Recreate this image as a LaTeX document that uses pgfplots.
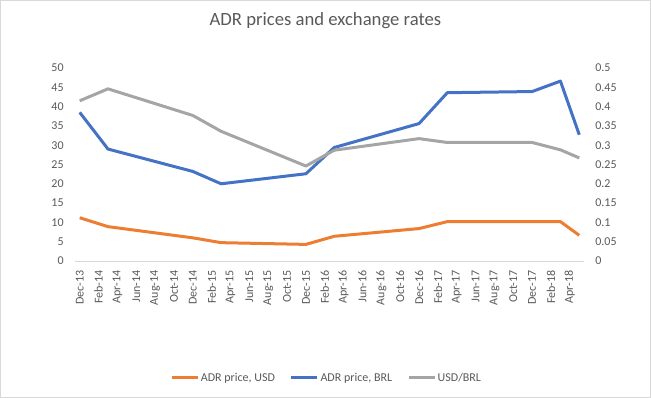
\documentclass[border=0pt]{standalone}
\usepackage{pgfplots}
\pgfplotsset{compat=1.18}
\usepackage{pgfplotstable}
\usepackage{fontspec}
\setmainfont{Carlito}
\definecolor{txt}{HTML}{595959}
\definecolor{cOr}{HTML}{ED7D31}
\definecolor{cBl}{HTML}{4472C4}
\definecolor{cGr}{HTML}{A5A5A5}
\definecolor{axc}{HTML}{D9D9D9}
\pgfplotstableread{
x usd brl fx
0.5 11.2 38.5 0.415
3.5 8.9 29.0 0.446
12.5 6.0 23.2 0.377
15.5 4.75 20.0 0.336
24.5 4.3 22.6 0.246
27.5 6.4 29.4 0.287
36.5 8.4 35.6 0.317
39.5 10.2 43.6 0.307
48.5 10.2 43.9 0.307
51.5 10.2 46.6 0.288
53.5 6.65 32.7 0.267
}\data
\begin{document}
\begin{tikzpicture}
\useasboundingbox (0,0) rectangle (488.25pt,298.5pt);
\draw[axc] (0.4pt,0.4pt) rectangle (487.85pt,298.1pt);
\pgfplotsset{
  every axis/.append style={
    scale only axis, width=381.75pt, height=144.75pt,
    at={(56.25pt,102.75pt)}, anchor=south west,
    xmin=0, xmax=54,
    tick label style={font=\fontsize{9}{11}\selectfont, text=txt},
    /pgf/number format/assume math mode=true,
    axis line style={draw=axc},
    y axis line style={draw=none},
    ytick style={draw=none},
  }
}
\begin{axis}[
  ymin=0, ymax=50, ytick={0,5,...,50},
  axis x line*=bottom, axis y line*=left,
  yticklabel style={anchor=east, xshift=-5pt},
  xtick={0.5,2.5,...,52.5},
  xticklabels={Dec-13,Feb-14,Apr-14,Jun-14,Aug-14,Oct-14,Dec-14,Feb-15,Apr-15,Jun-15,Aug-15,Oct-15,Dec-15,Feb-16,Apr-16,Jun-16,Aug-16,Oct-16,Dec-16,Feb-17,Apr-17,Jun-17,Aug-17,Oct-17,Dec-17,Feb-18,Apr-18},
  xticklabel style={rotate=90, anchor=east, xshift=-3.5pt},
  xtick style={draw=none},
  extra x ticks={0,2,...,54},
  extra x tick labels={},
  extra x tick style={tick style={draw=axc, line width=0.6pt}, major tick length=3.4pt, tick align=outside},
  title={ADR prices and exchange rates},
  title style={font=\fontsize{14}{16}\selectfont, text=txt, at={(0.492,1.244)}, anchor=center, yshift=-6pt},
  legend style={at={(0.494,-0.606)}, anchor=center, legend columns=3, draw=none, fill=none,
    font=\fontsize{9}{11}\selectfont, text=txt, /tikz/every even column/.append style={column sep=10pt},
    inner sep=0pt, nodes={inner sep=1.2pt}},
  legend image code/.code={\draw[#1, line width=2.25pt] (0pt,0pt) -- (19.5pt,0pt);},
]
\addplot[cOr, line width=2.25pt, line join=round] table[x=x,y=usd] {\data};
\addlegendentry{ADR price, USD}
\addplot[cBl, line width=2.25pt, line join=round] table[x=x,y=brl] {\data};
\addlegendentry{ADR price, BRL}
\addlegendimage{cGr, line width=2.25pt}
\addlegendentry{USD/BRL}
\end{axis}
\begin{axis}[
  ymin=0, ymax=0.5, ytick={0,0.05,...,0.5},
  axis x line=none, axis y line*=right,
  yticklabel style={anchor=west, xshift=5pt, /pgf/number format/fixed},
  hide x axis,
]
\addplot[cGr, line width=2.25pt, line join=round] table[x=x,y=fx] {\data};
\end{axis}
\end{tikzpicture}
\end{document}
